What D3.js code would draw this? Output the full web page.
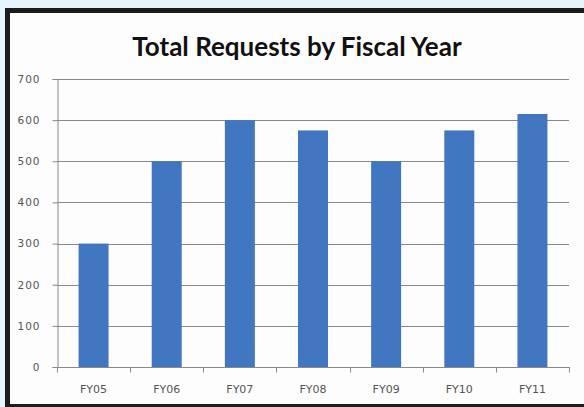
<!DOCTYPE html>
<html>
<head>
<meta charset="UTF-8">
<title>Total Requests by Fiscal Year</title>
<script src="https://cdn.jsdelivr.net/npm/d3@7/dist/d3.min.js"></script>
<style>
  body { margin: 0; padding: 0; background: #e4f6fb; }
  svg { display: block; }
</style>
</head>
<body>
<svg width="584" height="407"></svg>
<script>
// chart data
var years = ["FY05", "FY06", "FY07", "FY08", "FY09", "FY10", "FY11"];
var requests = [300, 500, 600, 575, 500, 575, 615];
var yTicks = [0, 100, 200, 300, 400, 500, 600, 700];

var width = 584, height = 407;
var svg = d3.select("svg");

// frame: black border on left, top and bottom, white panel
svg.append("rect").attr("x", 5).attr("y", 8).attr("width", width - 5).attr("height", height - 8)
    .attr("fill", "#1c1c1c");
svg.append("rect").attr("x", 10).attr("y", 13).attr("width", width - 10).attr("height", 391)
    .attr("fill", "#fdfdfd");

var plotLeft = 57, plotRight = 569, plotTop = 79, plotBottom = 367;

var x = d3.scaleBand()
    .domain(years)
    .range([plotLeft, plotRight])
    .paddingInner(0.59)
    .paddingOuter(0.295);

var y = d3.scaleLinear()
    .domain([0, 700])
    .range([plotBottom, plotTop]);

// gridlines
svg.append("g")
    .selectAll("line")
    .data(yTicks.slice(1))
    .enter()
    .append("line")
    .attr("x1", plotLeft)
    .attr("x2", plotRight)
    .attr("y1", function(d){ return Math.round(y(d)) + 0.5; })
    .attr("y2", function(d){ return Math.round(y(d)) + 0.5; })
    .attr("stroke", "#8a8a8a")
    .attr("stroke-width", 1);

// bars
svg.append("g")
    .selectAll("rect")
    .data(requests)
    .enter()
    .append("rect")
    .attr("x", function(d, i){ return x(years[i]); })
    .attr("y", function(d){ return y(d); })
    .attr("width", x.bandwidth())
    .attr("height", function(d){ return plotBottom - y(d); })
    .attr("fill", "#4177c0");

// y axis
var yAxis = svg.append("g")
    .attr("transform", "translate(" + (plotLeft + 0.5) + ",0)")
    .call(d3.axisLeft(y).tickValues(yTicks).tickSize(5).tickPadding(12));
yAxis.select(".domain").attr("stroke", "#8a8a8a");
yAxis.selectAll(".tick line").attr("stroke", "#8a8a8a");
yAxis.selectAll("text")
    .attr("fill", "#555")
    .style("font-family", "'DejaVu Sans', sans-serif")
    .style("font-size", "10.5px")
    .style("letter-spacing", "1px");

// x axis with tick marks on band edges
var xAxis = svg.append("g")
    .attr("transform", "translate(0," + (plotBottom + 0.5) + ")");
xAxis.append("line")
    .attr("x1", plotLeft).attr("x2", plotRight + 1)
    .attr("stroke", "#8a8a8a");
xAxis.selectAll(".edge")
    .data(d3.range(years.length + 1))
    .enter()
    .append("line")
    .attr("class", "edge")
    .attr("x1", function(i){ return Math.round(plotLeft + i * x.step()) + 0.5; })
    .attr("x2", function(i){ return Math.round(plotLeft + i * x.step()) + 0.5; })
    .attr("y1", 0).attr("y2", 5)
    .attr("stroke", "#8a8a8a");
xAxis.selectAll("text")
    .data(years)
    .enter()
    .append("text")
    .attr("x", function(d){ return x(d) + x.bandwidth() / 2; })
    .attr("y", 25)
    .attr("text-anchor", "middle")
    .attr("fill", "#555")
    .style("font-family", "'DejaVu Sans', sans-serif")
    .style("font-size", "11px")
    .text(function(d){ return d; });

// title
svg.append("text")
    .attr("x", 297)
    .attr("y", 56)
    .attr("text-anchor", "middle")
    .attr("fill", "#111")
    .style("font-family", "Lato, 'Open Sans', sans-serif")
    .style("font-weight", "bold")
    .style("font-size", "26px")
    .text("Total Requests by Fiscal Year");
</script>
</body>
</html>
